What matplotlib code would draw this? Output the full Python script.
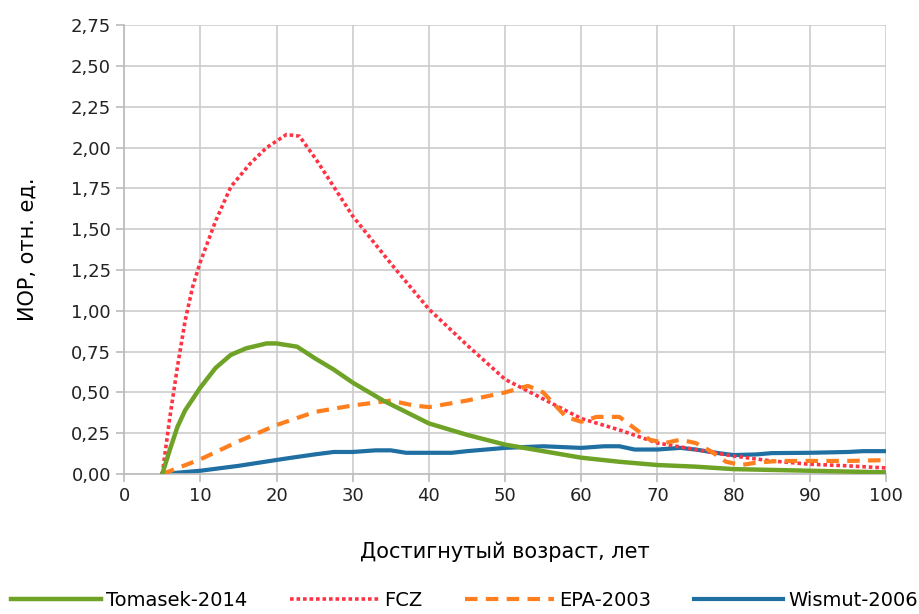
import matplotlib.pyplot as plt
from matplotlib.ticker import FuncFormatter, MultipleLocator

# Достигнутый возраст, лет / ИОР по моделям
age_tomasek = [5, 6, 7, 8, 10, 12, 14, 16, 18.7, 20, 22.7, 25, 27.5, 30, 34, 40, 45, 50, 55, 60, 65, 70, 75, 80,
               85, 90, 95, 100]
tomasek = [0.0, 0.15, 0.29, 0.39, 0.53, 0.65, 0.73, 0.77, 0.80, 0.80, 0.78, 0.71, 0.64, 0.56, 0.45, 0.31, 0.24,
           0.18, 0.14, 0.10, 0.075, 0.055, 0.045, 0.03, 0.025, 0.02, 0.015, 0.01]

age_fcz = [5, 6, 7, 8, 9, 10, 12, 14, 16.5, 18.7, 21.3, 23, 25.3, 30, 35, 40, 45, 50, 55, 60, 65, 70, 75, 80,
           85, 90, 95, 100]
fcz = [0.0, 0.35, 0.66, 0.94, 1.15, 1.30, 1.55, 1.76, 1.90, 2.00, 2.08, 2.07, 1.92, 1.58, 1.29, 1.01, 0.79, 0.58,
       0.46, 0.34, 0.27, 0.19, 0.15, 0.11, 0.08, 0.06, 0.05, 0.037]

age_epa = [5, 10, 15, 20, 25, 30, 35, 38, 40, 45, 50, 53, 55, 58, 60, 62, 65, 67, 69, 71, 73, 75, 77, 79, 81, 83,
           86, 90, 95, 100]
epa = [0.0, 0.09, 0.20, 0.30, 0.38, 0.42, 0.45, 0.42, 0.41, 0.45, 0.50, 0.54, 0.50, 0.35, 0.32, 0.35, 0.35, 0.28,
       0.21, 0.19, 0.21, 0.19, 0.14, 0.075, 0.055, 0.07, 0.08, 0.08, 0.08, 0.085]

age_wismut = [5, 10, 15, 20, 22, 25, 27.5, 30, 33, 35, 37, 40, 43, 45, 50, 55, 60, 63, 65, 67, 70, 73, 75, 78,
              80, 83, 85, 90, 95, 97, 100]
wismut = [0.0, 0.02, 0.05, 0.086, 0.10, 0.12, 0.135, 0.135, 0.145, 0.145, 0.13, 0.13, 0.13, 0.14, 0.16, 0.17, 0.16,
          0.17, 0.17, 0.15, 0.15, 0.16, 0.15, 0.128, 0.116, 0.12, 0.128, 0.13, 0.135, 0.14, 0.14]

plt.rcParams['font.family'] = ['DejaVu Sans']

fig = plt.figure(figsize=(9.2, 6.14), dpi=100)
ax = fig.add_axes([0.135, 0.228, 0.828, 0.731])

ax.plot(age_tomasek, tomasek, color="#6ea327", lw=3.2, label="Tomasek-2014", zorder=4)
ax.plot(age_fcz, fcz, color="#ff3344", lw=2.6, ls=(0, (1, 0.8)), label="FCZ", zorder=3)
ax.plot(age_epa, epa, color="#ff7f1e", lw=3, ls=(0, (3, 2)), label="EPA-2003", zorder=3)
ax.plot(age_wismut, wismut, color="#1f6fa3", lw=3, label="Wismut-2006", zorder=2)

ax.set_xlim(0, 100)
ax.set_ylim(0, 2.75)
ax.xaxis.set_major_locator(MultipleLocator(10))
ax.yaxis.set_major_locator(MultipleLocator(0.25))
ax.yaxis.set_major_formatter(FuncFormatter(lambda v, p: f"{v:.2f}".replace(".", ",")))

ax.grid(True, color="#cccccc", lw=1.2)
ax.set_axisbelow(True)
for s in ["top", "right"]:
    ax.spines[s].set_visible(False)
for s in ["left", "bottom"]:
    ax.spines[s].set_color("#bbbbbb")
    ax.spines[s].set_linewidth(1.2)
ax.tick_params(colors="#bbbbbb", labelcolor="#222222", labelsize=13, length=6, width=1.2)

ax.set_xlabel("Достигнутый возраст, лет", fontsize=15, labelpad=26)
ax.set_ylabel("ИОР, отн. ед.", fontsize=15, labelpad=24)

fig.legend(loc="center", bbox_to_anchor=(0.505, 0.022), ncol=4, frameon=False, fontsize=14,
           handlelength=4.6, columnspacing=2.2, handletextpad=0.25, borderpad=0)

plt.savefig("out.png", dpi=100)
